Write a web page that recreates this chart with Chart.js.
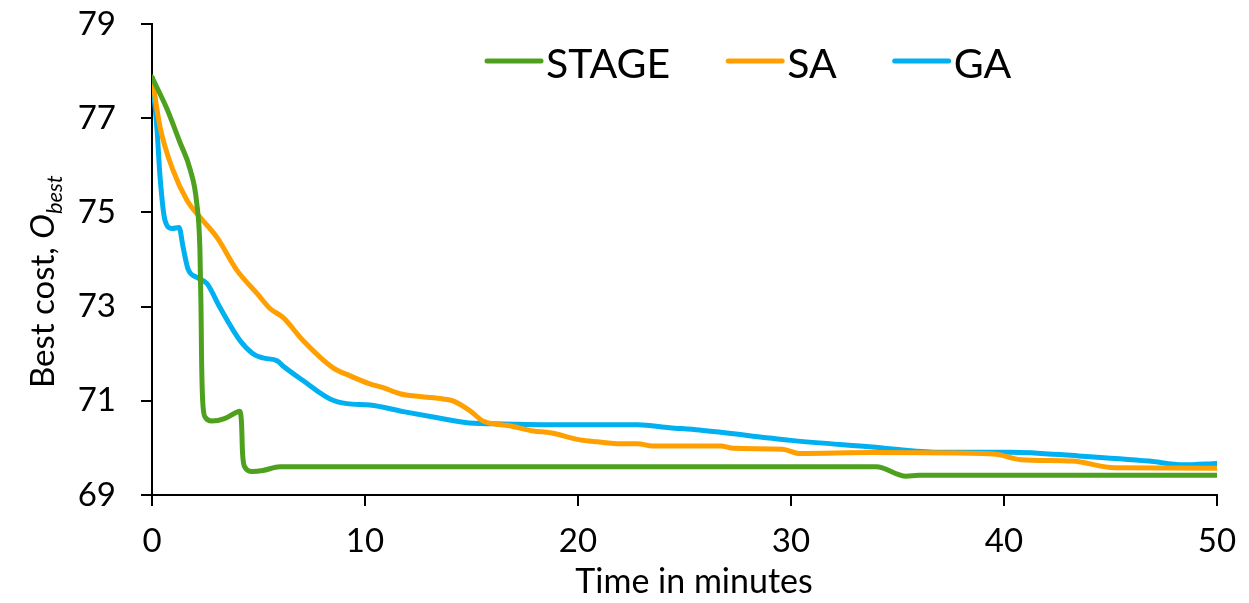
<!DOCTYPE html>
<html>
<head>
<meta charset="utf-8">
<script src="https://cdn.jsdelivr.net/npm/chart.js@4.4.1/dist/chart.umd.min.js"></script>
<style>
  html, body { margin: 0; padding: 0; background: #fff; }
  #wrap { width: 1249px; height: 603px; position: relative; }
</style>
</head>
<body>
<div id="wrap"><canvas id="costChart"></canvas></div>
<script>
// best cost over time
const stageTime = [0, 0.7, 1.3, 1.8, 2.1, 2.25, 2.3, 2.33, 2.38, 2.5, 2.8, 3.4, 3.9, 4.1, 4.2, 4.25, 4.35, 4.7, 5.2, 6.0, 34.0, 35.4, 36.0, 50];
const stageCost = [77.87, 77.2, 76.5, 75.9, 75.2, 74.2, 73.0, 71.8, 71.0, 70.65, 70.57, 70.62, 70.74, 70.78, 70.55, 69.9, 69.6, 69.5, 69.52, 69.6, 69.6, 69.4, 69.42, 69.42];

const saTime = [0, 0.38, 0.99, 1.64, 2.25, 3.05, 3.99, 4.93, 5.54, 6.15, 7.09, 8.5, 9.3, 10.23, 10.85, 11.64, 12.58, 13.66, 14.13, 14.93, 15.54, 16.8, 17.9, 18.7, 20.1, 20.9, 22.0, 22.8, 23.5, 26.7, 27.3, 29.6, 30.4, 33.8, 39.5, 40.8, 43.2, 45.2, 50];
const saCost = [77.87, 76.81, 75.89, 75.26, 74.9, 74.47, 73.77, 73.28, 72.96, 72.77, 72.28, 71.7, 71.53, 71.36, 71.28, 71.15, 71.09, 71.04, 71.0, 70.79, 70.57, 70.47, 70.36, 70.32, 70.17, 70.13, 70.09, 70.09, 70.04, 70.04, 69.99, 69.97, 69.88, 69.9, 69.87, 69.75, 69.72, 69.58, 69.57];

const gaTime = [0, 0.23, 0.38, 0.61, 0.94, 1.27, 1.46, 1.69, 2.1, 2.58, 3.19, 4.13, 4.74, 5.2, 5.87, 6.15, 7.09, 8.36, 9.15, 10.23, 11.8, 13.4, 14.9, 16.5, 19.6, 22.8, 24.3, 25.7, 30, 33.8, 36.7, 40.3, 43.5, 46.8, 48.4, 50];
const gaCost = [77.87, 76.8, 75.74, 74.83, 74.66, 74.68, 74.26, 73.8, 73.62, 73.49, 72.98, 72.28, 72.0, 71.91, 71.85, 71.74, 71.43, 71.04, 70.94, 70.91, 70.77, 70.64, 70.53, 70.51, 70.49, 70.49, 70.43, 70.38, 70.16, 70.02, 69.91, 69.91, 69.83, 69.72, 69.64, 69.67];

const seriesNames = ['STAGE', 'SA', 'GA'];
const seriesColors = ['#4ea11e', '#ffa000', '#00b0f0'];
const xTicks = [0, 10, 20, 30, 40, 50];
const yTicks = [69, 71, 73, 75, 77, 79];

const toPoints = (xs, ys) => xs.map((x, i) => ({ x: x, y: ys[i] }));

Chart.defaults.font.family = 'Lato, "Open Sans", sans-serif';
Chart.defaults.color = '#000';

// titles + legend drawn by hand so they can sit where Excel put them
const decor = {
  id: 'decor',
  afterDraw(chart) {
    const ctx = chart.ctx;
    ctx.save();
    ctx.fillStyle = '#000';

    // legend inside the plot, top centre
    ctx.font = '41px Lato';
    ctx.textBaseline = 'alphabetic';
    ctx.textAlign = 'left';
    let lx = 487;
    const ly = 61;
    chart.data.datasets.forEach(ds => {
      ctx.strokeStyle = ds.borderColor;
      ctx.lineWidth = 5;
      ctx.lineCap = 'round';
      ctx.beginPath();
      ctx.moveTo(lx, ly);
      ctx.lineTo(lx + 54, ly);
      ctx.stroke();
      ctx.fillText(ds.label, lx + 59, 78);
      lx += 59 + ctx.measureText(ds.label).width + 58;
    });

    // x title
    ctx.font = '34px Lato';
    ctx.textAlign = 'center';
    ctx.fillText('Time in minutes', 694, 593);

    // y title with italic subscript
    ctx.translate(54, 388);
    ctx.rotate(-Math.PI / 2);
    ctx.textAlign = 'left';
    ctx.font = '33px Lato';
    const head = 'Best cost, ';
    ctx.fillText(head, 0, 0);
    let tx = ctx.measureText(head).width;
    ctx.font = 'italic 33px Lato';
    ctx.fillText('O', tx, 0);
    tx += ctx.measureText('O').width;
    ctx.font = 'italic 22px Lato';
    ctx.fillText('best', tx, 8);
    ctx.restore();
  }
};

new Chart(document.getElementById('costChart'), {
  type: 'line',
  data: {
    datasets: seriesNames.map((name, i) => ({
      label: name,
      data: toPoints([stageTime, saTime, gaTime][i], [stageCost, saCost, gaCost][i]),
      borderColor: seriesColors[i],
      backgroundColor: seriesColors[i],
      borderWidth: 5,
      pointRadius: 0,
      cubicInterpolationMode: 'monotone',
      borderCapStyle: 'round',
      borderJoinStyle: 'round',
      fill: false
    }))
  },
  options: {
    responsive: true,
    maintainAspectRatio: false,
    animation: false,
    devicePixelRatio: 1,
    layout: { padding: { left: 0, top: 24, right: 32, bottom: 0 } },
    plugins: {
      legend: { display: false },
      tooltip: { enabled: false }
    },
    scales: {
      x: {
        type: 'linear',
        min: 0,
        max: 50,
        afterBuildTicks: s => { s.ticks = xTicks.map(v => ({ value: v })); },
        afterFit: s => { s.height = 108; s.paddingLeft = 0; s.paddingRight = 0; },
        ticks: { font: { size: 33 }, padding: 16, maxRotation: 0, color: '#000' },
        grid: { display: true, drawOnChartArea: false, drawTicks: true, tickLength: 11, color: '#000', lineWidth: 2 },
        border: { display: true, color: '#000', width: 2 }
      },
      y: {
        min: 69,
        max: 79,
        afterBuildTicks: s => { s.ticks = yTicks.map(v => ({ value: v })); },
        afterFit: s => { s.width = 152; s.paddingTop = 0; s.paddingBottom = 0; },
        ticks: { font: { size: 33 }, padding: 25, color: '#000' },
        grid: { display: true, drawOnChartArea: false, drawTicks: true, tickLength: 11, color: '#000', lineWidth: 2 },
        border: { display: true, color: '#000', width: 2 }
      }
    }
  },
  plugins: [decor]
});
</script>
</body>
</html>
